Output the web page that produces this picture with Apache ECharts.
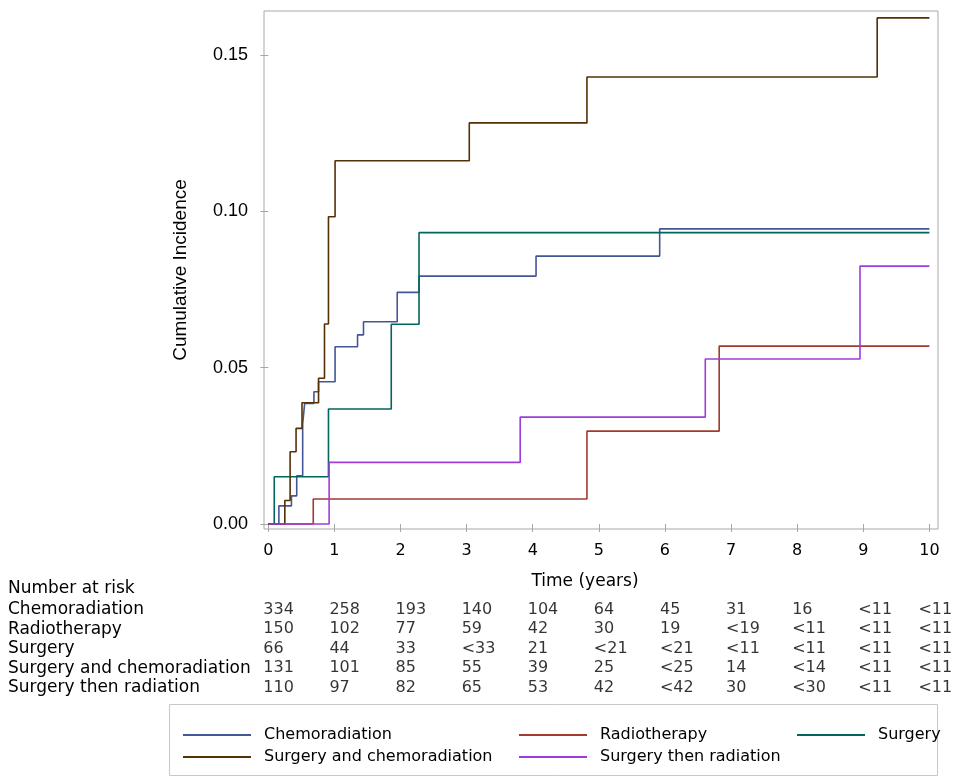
<!DOCTYPE html>
<html><head><meta charset="utf-8">
<script src="https://cdn.jsdelivr.net/npm/echarts@6/dist/echarts.min.js"></script>
<style>html,body{margin:0;padding:0;background:#fff}#c{width:957px;height:784px}</style>
</head><body><div id="c"></div>
<script>
// ---------- data ----------
const seriesNames = ['Chemoradiation', 'Radiotherapy', 'Surgery', 'Surgery and chemoradiation', 'Surgery then radiation'];

const chemoT = [0, 0.16, 0.35, 0.43, 0.52, 0.55, 0.69, 0.76, 1.01, 1.35, 1.44, 1.95, 2.28, 4.05, 5.92, 10];
const chemoV = [0, 0.0058, 0.0090, 0.0154, 0.0320, 0.0386, 0.0423, 0.0455, 0.0567, 0.0605, 0.0647, 0.0741, 0.0793, 0.0857, 0.0944, 0.0944];

const radioT = [0, 0.68, 4.82, 6.82, 10];
const radioV = [0, 0.0080, 0.0297, 0.0569, 0.0569];

const surgT = [0, 0.09, 0.91, 1.86, 2.28, 10];
const surgV = [0, 0.0151, 0.0368, 0.0639, 0.0932, 0.0932];

const surgChemoT = [0, 0.25, 0.33, 0.42, 0.51, 0.76, 0.85, 0.91, 1.01, 3.04, 4.82, 9.21, 10];
const surgChemoV = [0, 0.0075, 0.0231, 0.0306, 0.0388, 0.0466, 0.0640, 0.0983, 0.1162, 0.1283, 0.1430, 0.1619, 0.1619];

const surgRadT = [0, 0.92, 3.81, 6.61, 8.95, 10];
const surgRadV = [0, 0.0197, 0.0342, 0.0528, 0.0825, 0.0825];

const xTicks = [0, 1, 2, 3, 4, 5, 6, 7, 8, 9, 10];
const yTicks = [0, 0.05, 0.10, 0.15];

const riskTimes = [0, 1, 2, 3, 4, 5, 6, 7, 8, 9, 10];
const riskChemo = ['334', '258', '193', '140', '104', '64', '45', '31', '16', '<11', '<11'];
const riskRadio = ['150', '102', '77', '59', '42', '30', '19', '<19', '<11', '<11', '<11'];
const riskSurg = ['66', '44', '33', '<33', '21', '<21', '<21', '<11', '<11', '<11', '<11'];
const riskSurgChemo = ['131', '101', '85', '55', '39', '25', '<25', '14', '<14', '<11', '<11'];
const riskSurgRad = ['110', '97', '82', '65', '53', '42', '<42', '30', '<30', '<11', '<11'];

// ---------- chart ----------
const colors = ['#445694', '#A23A2E', '#01665E', '#543005', '#9D3CDB'];
const curveT = [chemoT, radioT, surgT, surgChemoT, surgRadT];
const curveV = [chemoV, radioV, surgV, surgChemoV, surgRadV];
const riskRows = [riskChemo, riskRadio, riskSurg, riskSurgChemo, riskSurgRad];

const FONT = 'DejaVu Sans';
const xMin = -0.065, xMax = 10.13, yMin = -0.0016, yMax = 0.1641;
const gray = '#a8a8a8';

const lineSeries = seriesNames.map((n, i) => ({
  name: n, type: 'line', step: 'end', showSymbol: false, symbol: 'none',
  xAxisIndex: 0, yAxisIndex: 0,
  lineStyle: { color: colors[i], width: 1.6 },
  itemStyle: { color: colors[i] },
  data: curveT[i].map((t, j) => [t, curveV[i][j]])
}));

const tableSeries = seriesNames.map((n, i) => ({
  type: 'scatter', xAxisIndex: 1, yAxisIndex: 1, silent: true,
  symbolSize: 0.1, itemStyle: { color: 'rgba(0,0,0,0)' },
  label: { show: true, position: 'inside', align: 'left', offset: [-5, 0],
    fontFamily: FONT, fontSize: 16, color: '#000', textBorderWidth: 0,
    formatter: p => p.data.txt },
  data: riskTimes.map((t, j) => {
    const d = { value: [t, n], txt: riskRows[i][j] };
    if (j === riskTimes.length - 1) d.label = { offset: [-11, 0] };
    return d;
  })
}));

const legendCommon = {
  orient: 'vertical', top: 722, itemWidth: 68, itemHeight: 2, itemGap: 6, icon: 'rect',
  selectedMode: false,
  textStyle: { fontFamily: FONT, fontSize: 16, color: '#000', padding: [0, 0, 0, 8], lineHeight: 16 }
};

const chart = echarts.init(document.getElementById('c'), null, { renderer: 'canvas' });
chart.setOption({
  animation: false,
  backgroundColor: '#fff',
  color: colors,
  grid: [
    { left: 264, right: 19, top: 11, bottom: 255, show: true, borderColor: gray, borderWidth: 1, containLabel: false, outerBoundsMode: 'none' },
    { left: 264, right: 19, top: 600, height: 97.5, show: false, containLabel: false, outerBoundsMode: 'none' }
  ],
  xAxis: [
    { type: 'value', gridIndex: 0, min: xMin, max: xMax,
      axisLine: { show: false }, splitLine: { show: false },
      axisTick: { show: true, length: 8, lineStyle: { color: gray }, customValues: xTicks },
      axisLabel: { customValues: xTicks, margin: 14, fontFamily: FONT, fontSize: 16, color: '#000',
        formatter: v => String(Math.round(v)) },
      name: 'Time (years)', nameLocation: 'middle', nameGap: 44,
      nameTextStyle: { fontFamily: FONT, fontSize: 17, color: '#000', padding: [0, 32, 0, 0] } },
    { type: 'value', gridIndex: 1, min: xMin, max: xMax, show: false }
  ],
  yAxis: [
    { type: 'value', gridIndex: 0, min: yMin, max: yMax,
      axisLine: { show: false }, splitLine: { show: false },
      axisTick: { show: true, length: 8, lineStyle: { color: gray }, customValues: yTicks },
      axisLabel: { customValues: yTicks, margin: 16, fontFamily: 'Liberation Sans', fontSize: 18, color: '#000',
        formatter: v => v.toFixed(2) },
      name: 'Cumulative Incidence', nameLocation: 'middle', nameGap: 74,
      nameTextStyle: { fontFamily: 'Liberation Sans', fontSize: 19, color: '#000' } },
    { type: 'category', gridIndex: 1, data: seriesNames, inverse: true,
      axisLine: { show: false }, axisTick: { show: false }, splitLine: { show: false },
      axisLabel: { interval: 0, align: 'left', margin: 256, fontFamily: FONT, fontSize: 17, color: '#000', hideOverlap: false } }
  ],
  legend: [
    Object.assign({}, legendCommon, { left: 178, data: ['Chemoradiation', 'Surgery and chemoradiation'] }),
    Object.assign({}, legendCommon, { left: 514, data: ['Radiotherapy', 'Surgery then radiation'] }),
    Object.assign({}, legendCommon, { left: 792, data: ['Surgery'] })
  ],
  graphic: [
    { type: 'rect', silent: true, shape: { x: 169.5, y: 704.5, width: 768, height: 71 },
      style: { fill: 'none', stroke: '#c8c8c8', lineWidth: 1 } },
    { type: 'text', silent: true, x: 8, y: 589,
      style: { text: 'Number at risk', fontFamily: FONT, fontSize: 17, fill: '#000', verticalAlign: 'middle' } }
  ],
  series: lineSeries.concat(tableSeries)
});
</script>
</body></html>
